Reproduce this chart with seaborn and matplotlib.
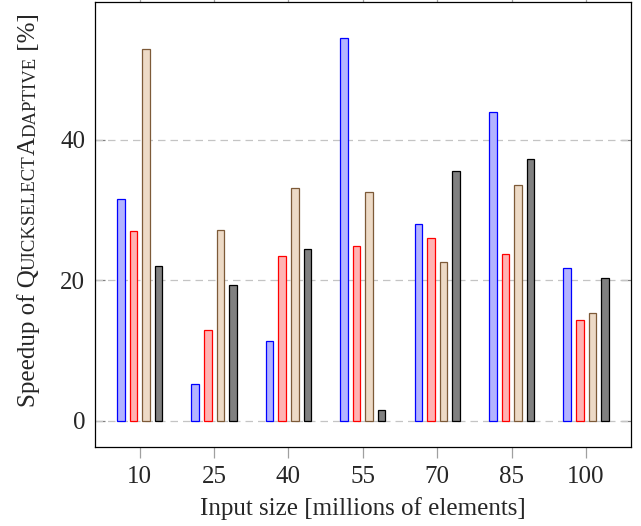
import numpy as np
import pandas as pd
import seaborn as sns
import matplotlib
matplotlib.use("Agg")
import matplotlib.pyplot as plt
from matplotlib.transforms import IdentityTransform

# ---- data ----
sizes = ["10", "25", "40", "55", "70", "85", "100"]
series = ["Variant 1", "Variant 2", "Variant 3", "Variant 4"]
v1 = [31.5, 5.2, 11.4, 54.4, 28.0, 43.9, 21.8]
v2 = [27.0, 12.9, 23.4, 24.9, 26.0, 23.7, 14.3]
v3 = [52.9, 27.1, 33.1, 32.6, 22.6, 33.5, 15.3]
v4 = [22.1, 19.3, 24.4, 1.6, 35.6, 37.2, 20.3]
yticks = [0, 20, 40]

fills = ["#b3b3ff", "#ffb3b3", "#eddac6", "#808080"]
edges = ["#0000ff", "#ff0000", "#7d5a38", "#000000"]

rows = []
for name, vals in zip(series, [v1, v2, v3, v4]):
    for s, v in zip(sizes, vals):
        rows.append({"size": s, "speedup": v, "variant": name})
df = pd.DataFrame(rows)

sns.set_theme(style="white")
SERIF = ["Liberation Serif", "DejaVu Serif"]
plt.rcParams["font.family"] = SERIF
plt.rcParams["mathtext.fontset"] = "stix"

W, H = 641, 526
fig = plt.figure(figsize=(W / 100, H / 100), dpi=100)
ax = fig.add_axes([95 / W, 1 - 447 / H, (630.7 - 95) / W, (447 - 1.7) / H])

sns.barplot(data=df, x="size", y="speedup", hue="variant", order=sizes,
            hue_order=series, palette=fills, width=0.676, gap=0.4,
            legend=False, ax=ax, saturation=1, zorder=3)

for cont, ec in zip(ax.containers, edges):
    for p in cont.patches:
        p.set_edgecolor(ec)
        p.set_linewidth(0.9)

ax.set_xlim(-0.6, 6.6)
ax.set_ylim(-3.7, 59.6)
ax.set_yticks(yticks)
ax.set_yticklabels([str(t) for t in yticks])
for t in yticks:
    ax.axhline(t, color="#c4c4c4", lw=0.9, ls=(0, (6, 4)), zorder=1)

for sp in ax.spines.values():
    sp.set_color("black")
    sp.set_linewidth(0.9)

ax.tick_params(axis="y", direction="in", length=7, width=0.9, color="#808080",
               left=True, right=True, labelsize=18, pad=7)
ax.tick_params(axis="x", direction="out", length=8, width=0.9, color="#a0a0a0",
               bottom=True, top=True, labelsize=18, pad=6)
ax.set_xlabel("Input size [millions of elements]", fontsize=18, labelpad=6)
ax.set_ylabel("")

# ---- y label with small caps ----
fig.canvas.draw()
renderer = fig.canvas.get_renderer()


def adv(s, size):
    t = fig.text(0, 0, "|" + s + "|", fontsize=size)
    w1 = t.get_window_extent(renderer).width
    t.set_text("||")
    w0 = t.get_window_extent(renderer).width
    t.remove()
    return w1 - w0


BIG, SMALL = 18, 13.5
pieces = [("Speedup of Q", BIG), ("UICKSELECT", SMALL), ("A", BIG),
          ("DAPTIVE", SMALL), (" [%]", BIG)]
advs = [adv(s, sz) for s, sz in pieces]
total = sum(advs)
yc = H - 210
y = yc - total / 2
xb = 35
for (s, sz), a in zip(pieces, advs):
    fig.text(xb, y, s, fontsize=sz, rotation=90, rotation_mode="anchor",
             ha="left", va="baseline", transform=IdentityTransform())
    y += a

fig.savefig("out.png", dpi=100)
